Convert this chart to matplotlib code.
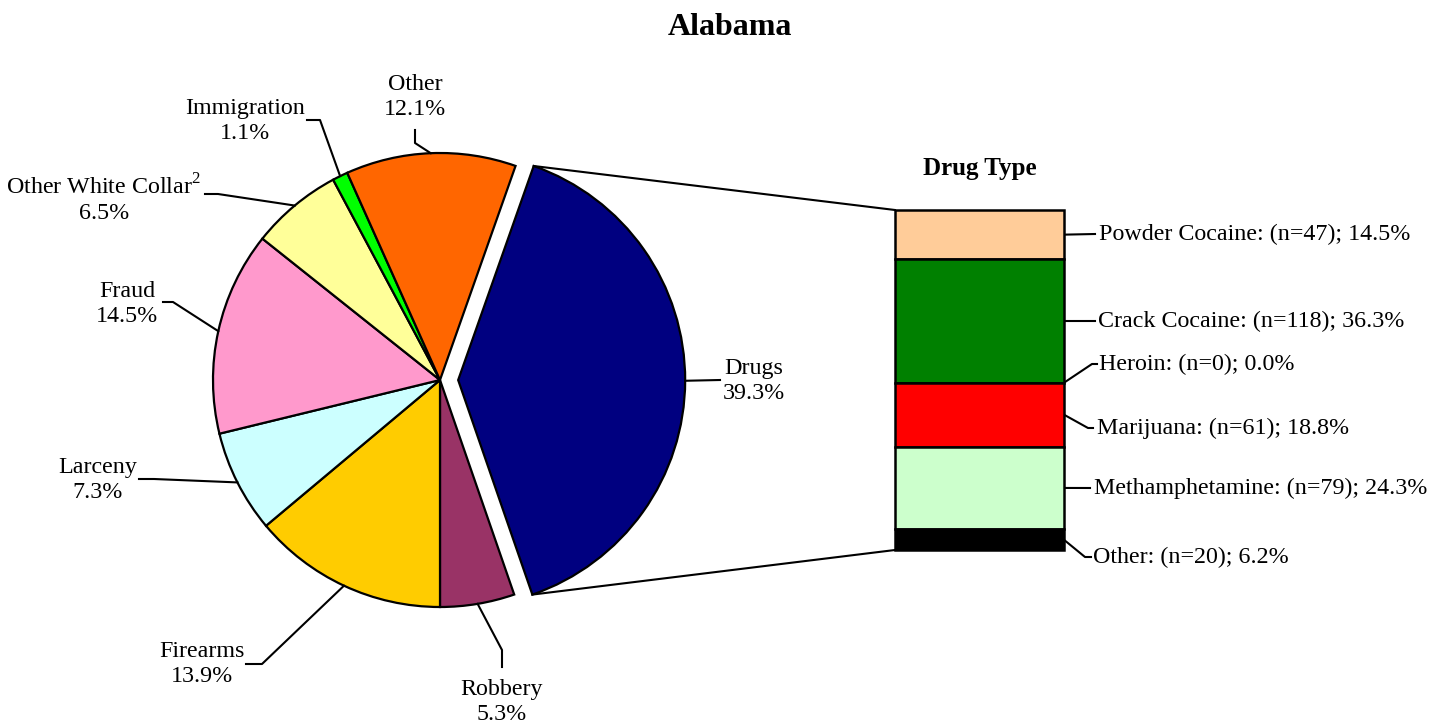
import matplotlib
matplotlib.use('Agg')
import numpy as np
import matplotlib.pyplot as plt

# ---- data ----
offense_labels = ['Drugs', 'Robbery', 'Firearms', 'Larceny', 'Fraud',
                  r'Other White Collar$^{\mathregular{2}}$', 'Immigration', 'Other']
offense_pct = [39.3, 5.3, 13.9, 7.3, 14.5, 6.5, 1.1, 12.1]
offense_colors = ['#000080', '#993366', '#FFCC00', '#CCFFFF', '#FF99CC',
                  '#FFFF99', '#00FF00', '#FF6600']

drug_labels = ['Powder Cocaine', 'Crack Cocaine', 'Heroin', 'Marijuana',
               'Methamphetamine', 'Other']
drug_n = [47, 118, 0, 61, 79, 20]
drug_pct = [14.5, 36.3, 0.0, 18.8, 24.3, 6.2]
drug_colors = ['#FFCC99', '#008000', '#FFFF00', '#FF0000', '#CCFFCC', '#000000']

W, H = 1445, 728
plt.rcParams['font.family'] = ['Liberation Serif', 'DejaVu Serif']
FS = 17.3
LW = 1.5

fig = plt.figure(figsize=(W / 100, H / 100), dpi=100)
ax = fig.add_axes([0, 0, 1, 1])


def Y(y):
    # pixel row (from top) -> data y (from bottom)
    return H - y


# ---- pie ----
cx, cy, R = 440, 380, 227
start = 270 + (offense_pct[1] + offense_pct[0]) * 3.6
explode = [0.08 * R] + [0] * (len(offense_pct) - 1)
wedges, _ = ax.pie(offense_pct, colors=offense_colors, startangle=start,
                   counterclock=False, explode=explode, radius=R,
                   center=(cx, Y(cy)),
                   wedgeprops=dict(edgecolor='black', linewidth=1.6))
ax.set_xlim(0, W)
ax.set_ylim(0, H)
ax.set_aspect('auto')
ax.axis('off')

# label layout: text center, elbow, end (pixels from top-left)
pie_layout = {
    'Drugs': ((754, 381), None, (720, 380)),
    'Robbery': ((502, 702), (502, 650), (502, 667)),
    'Firearms': ((202, 664), (262, 664), (246, 664)),
    'Larceny': ((98, 480), (154, 479), (139, 479)),
    'Fraud': ((127, 304), (173, 302), (163, 302)),
    offense_labels[5]: ((104, 199), (218, 194), (205, 194)),
    'Immigration': ((245, 121), (320, 120), (307, 120)),
    'Other': ((415, 97), (415, 143), (415, 130)),
}

for w, lab, pct in zip(wedges, offense_labels, offense_pct):
    (tx, ty), elbow, end = pie_layout[lab]
    mid = np.deg2rad((w.theta1 + w.theta2) / 2)
    px = w.center[0] + w.r * np.cos(mid)
    py = w.center[1] + w.r * np.sin(mid)
    xs, ys = [px], [py]
    if elbow is not None:
        xs.append(elbow[0]); ys.append(Y(elbow[1]))
    xs.append(end[0]); ys.append(Y(end[1]))
    ax.plot(xs, ys, color='black', lw=LW)
    ax.text(tx, Y(ty), f'{lab}\n{pct:.1f}%', ha='center', va='center',
            fontsize=FS, multialignment='center')

ax.text(730, Y(35), 'Alabama', ha='center', va='baseline',
        fontsize=23, fontweight='bold')

# ---- stacked bar ----
bx0, bx1, by0, by1 = 895, 1064, 210, 550
ax2 = fig.add_axes([bx0 / W, (H - by1) / H, (bx1 - bx0) / W, (by1 - by0) / H])
bottoms = 100 - np.cumsum(drug_pct)
for v, b, c in zip(drug_pct, bottoms, drug_colors):
    ax2.bar(0, v, bottom=b, width=1, color=c, edgecolor='black',
            linewidth=1.8, clip_on=False)
ax2.set_xlim(-0.5, 0.5)
ax2.set_ylim(0, 100)
ax2.axis('off')

ax.text((bx0 + bx1) / 2, Y(175), 'Drug Type', ha='center', va='baseline',
        fontsize=18, fontweight='bold')

# bar label layout: text left x, text y, elbow, end
bar_layout = [
    (1099, 234, None, (1095, 234)),
    (1098, 321, None, (1095, 321)),
    (1099, 364, (1092, 364), (1097, 364)),
    (1097, 428, (1088, 428), (1093, 428)),
    (1094, 488, None, (1090, 488)),
    (1093, 557, (1085, 557), (1091, 557)),
]
for lab, n, v, b, (tx, ty, elbow, end) in zip(drug_labels, drug_n, drug_pct,
                                               bottoms, bar_layout):
    px, py = ax2.transData.transform((0.5, b + v / 2))
    xs, ys = [px], [py]
    if elbow is not None:
        xs.append(elbow[0]); ys.append(Y(elbow[1]))
    xs.append(end[0]); ys.append(Y(end[1]))
    ax.plot(xs, ys, color='black', lw=LW)
    ax.text(tx, Y(ty), f'{lab}: (n={n}); {v:.1f}%', ha='left', va='center',
            fontsize=FS)

# ---- connector lines from the exploded slice to the bar ----
dw = wedges[0]
top = (dw.center[0] + dw.r * np.cos(np.deg2rad(dw.theta2)),
       dw.center[1] + dw.r * np.sin(np.deg2rad(dw.theta2)))
bot = (dw.center[0] + dw.r * np.cos(np.deg2rad(dw.theta1)),
       dw.center[1] + dw.r * np.sin(np.deg2rad(dw.theta1)))
c_top = ax2.transAxes.transform((0, 1))
c_bot = ax2.transAxes.transform((0, 0))
ax.plot([top[0], c_top[0]], [top[1], c_top[1]], color='black', lw=LW)
ax.plot([bot[0], c_bot[0]], [bot[1], c_bot[1]], color='black', lw=LW)

fig.savefig('out.png', dpi=100, facecolor='white')
